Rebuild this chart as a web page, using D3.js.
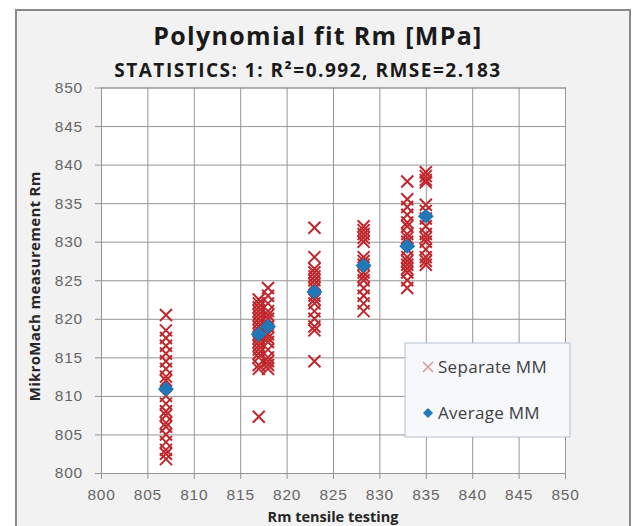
<!DOCTYPE html>
<html>
<head>
<meta charset="utf-8">
<script src="https://cdn.jsdelivr.net/npm/d3@7"></script>
<style>
  html, body { margin: 0; padding: 0; background: #fff; }
  svg { display: block; font-family: "Open Sans", "Liberation Sans", sans-serif; }
</style>
</head>
<body>
<svg id="chart" width="635" height="526"></svg>
<script>
// x positions (Rm tensile testing) of each specimen group
const groupX = [807, 817, 818, 823, 828.3, 833, 835];

// separate MikroMach readings, one list per group
const separateMM = [
  [820.5, 818.5, 817.5, 816.5, 815.5, 814.5, 813.5, 812.5, 812, 810, 809, 808, 807.5, 806.5, 806, 805, 804, 803, 802.5, 801.8],
  [822.5, 822, 821.5, 821, 820.5, 820, 819.5, 819, 818.5, 818, 817.5, 817, 816.5, 816, 815.5, 815, 814, 813.5, 807.3],
  [824, 823, 822, 821, 820.5, 820, 819, 818, 817.5, 817, 816, 815, 814.5, 814, 813.5],
  [831.8, 828, 826.5, 826, 825.5, 825, 824.5, 824, 823, 822.5, 822, 821, 820, 819, 818.5, 814.5],
  [832, 831.5, 831, 830.5, 830, 828, 827.5, 827, 826, 825.5, 825, 824, 823, 822, 821],
  [837.8, 835.5, 834.5, 833.5, 832.5, 832, 831, 830.5, 830, 829, 828, 827.5, 827, 826.5, 826, 825, 824],
  [839, 838.5, 838, 837.7, 834.8, 834, 833, 832, 831, 830.5, 830, 829, 828, 827.5, 827]
];

// averaged MikroMach value per group
const averageMM = [810.9, 818, 819, 823.5, 826.9, 829.4, 833.3];

const xTicks = d3.range(800, 851, 5);
const yTicks = d3.range(800, 851, 5);

const svg = d3.select("#chart");
const plot = { left: 101, right: 565, top: 87.5, bottom: 473 };

// chart background + frame
svg.append("rect")
  .attr("x", 16).attr("y", 10)
  .attr("width", 614).attr("height", 530)
  .attr("fill", "#f2f2f2")
  .attr("stroke", "#8a8a8a")
  .attr("stroke-width", 2);

svg.append("rect")
  .attr("x", plot.left).attr("y", plot.top)
  .attr("width", plot.right - plot.left).attr("height", plot.bottom - plot.top)
  .attr("fill", "#fff");

const x = d3.scaleLinear().domain([800, 850]).range([plot.left, plot.right]);
const y = d3.scaleLinear().domain([800, 850]).range([plot.bottom, plot.top]);

// grid + axes, Excel style (ticks poking out)
const xAxis = svg.append("g")
  .attr("transform", `translate(0,${plot.bottom})`)
  .call(d3.axisBottom(x).tickValues(xTicks).tickSize(-(plot.bottom - plot.top)).tickPadding(18));
xAxis.selectAll(".tick line").attr("stroke", "#959595").attr("y1", 6);
const yAxis = svg.append("g")
  .attr("transform", `translate(${plot.left},0)`)
  .call(d3.axisLeft(y).tickValues(yTicks).tickSize(-(plot.right - plot.left)).tickPadding(18));
yAxis.selectAll(".tick line").attr("stroke", "#959595").attr("x1", -6);

[xAxis, yAxis].forEach(a => {
  a.select(".domain").attr("stroke", "#959595");
  a.selectAll(".tick text")
    .attr("fill", "#666")
    .style("font-size", "15.5px")
    .style("letter-spacing", "0.8px");
});
xAxis.selectAll(".tick text").attr("dy", "0.6em");

// separate MM crosses
const crossPath = s => `M${-s},${-s}L${s},${s}M${-s},${s}L${s},${-s}`;
const diamondPath = (w, h) => `M0,${-h}L${w},0L0,${h}L${-w},0Z`;
const pts = [];
separateMM.forEach((vals, i) => vals.forEach(v => pts.push([groupX[i], v])));

svg.append("g").selectAll("path")
  .data(pts)
  .join("path")
  .attr("transform", d => `translate(${x(d[0])},${y(d[1])})`)
  .attr("d", crossPath(6))
  .attr("stroke", "#c0272d")
  .attr("stroke-width", 2)
  .attr("fill", "none");

// average MM diamonds
svg.append("g").selectAll("path")
  .data(groupX.map((gx, i) => [gx, averageMM[i]]))
  .join("path")
  .attr("transform", d => `translate(${x(d[0])},${y(d[1])})`)
  .attr("d", diamondPath(8, 7.5))
  .attr("fill", "#1f78b8");

// titles
svg.append("text")
  .attr("x", 318).attr("y", 45)
  .attr("text-anchor", "middle")
  .style("font-size", "25px").style("font-weight", "bold")
  .style("letter-spacing", "1.3px")
  .attr("fill", "#1a1a1a")
  .text("Polynomial fit Rm [MPa]");

svg.append("text")
  .attr("x", 308).attr("y", 77)
  .attr("text-anchor", "middle")
  .style("font-size", "19px").style("font-weight", "bold")
  .style("letter-spacing", "1.5px")
  .attr("fill", "#1a1a1a")
  .text("STATISTICS: 1: R²=0.992, RMSE=2.183");

svg.append("text")
  .attr("transform", `translate(40,${(plot.top + plot.bottom) / 2 + 6}) rotate(-90)`)
  .attr("text-anchor", "middle")
  .style("font-size", "15px").style("font-weight", "bold")
  .style("letter-spacing", "0.3px")
  .attr("fill", "#262626")
  .text("MikroMach measurement Rm");

svg.append("text")
  .attr("x", 333).attr("y", 522)
  .attr("text-anchor", "middle")
  .style("font-size", "14.5px").style("font-weight", "bold")
  .attr("fill", "#262626")
  .text("Rm tensile testing");

// legend
const lg = svg.append("g").attr("transform", "translate(405,343)");
lg.append("rect")
  .attr("width", 165).attr("height", 94)
  .attr("fill", "#f6f8fb")
  .attr("stroke", "#b4c0d0");
lg.append("path")
  .attr("transform", "translate(23,24)")
  .attr("d", crossPath(5))
  .attr("stroke", "#d89a9c").attr("stroke-width", 1.5);
lg.append("text").attr("x", 33).attr("y", 30)
  .style("font-size", "17px").style("letter-spacing", "0.3px")
  .attr("fill", "#404040").text("Separate MM");
lg.append("path")
  .attr("transform", "translate(23,70)")
  .attr("d", diamondPath(5, 5))
  .attr("fill", "#1f78b8");
lg.append("text").attr("x", 33).attr("y", 76)
  .style("font-size", "17px").style("letter-spacing", "0.3px")
  .attr("fill", "#404040").text("Average MM");
</script>
</body>
</html>
